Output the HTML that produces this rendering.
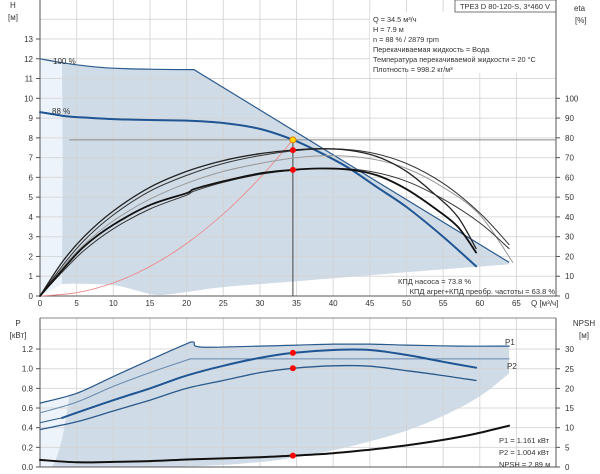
<!DOCTYPE html>
<html><head><meta charset="utf-8"><style>
html,body{margin:0;padding:0;background:#fff;}
svg{display:block;font-family:"Liberation Sans","Noto Sans CJK SC",sans-serif;}
</style></head><body>
<svg id="c" width="600" height="474" viewBox="0 0 600 474"></svg>
<script>
// ---- data ----
const qTicks=[0,5,10,15,20,25,30,35,40,45,50,55,60,65];
const hTicks=[0,1,2,3,4,5,6,7,8,9,10,11,12,13];
const etaTicks=[0,10,20,30,40,50,60,70,80,90,100];
const pTicks=[0,0.2,0.4,0.6,0.8,1.0,1.2];
const npshTicks=[0,5,10,15,20,25,30];
const h100a=[[0,12],[3,11.8],[6,11.65],[10,11.52],[15,11.47],[21,11.45]];
const h100b=[[21,11.45],[64,1.7]];
const h88=[[0,9.3],[3,9.12],[5,9.05],[10,8.95],[15,8.9],[20,8.87],[25,8.75],[30,8.45],[34.5,7.9],[38,7.3],[42,6.5],[46,5.5],[50,4.5],[55,3.0],[59.5,1.5]];
const shadeLower=[[64,1.6],[55,1.35],[45,1.05],[35,0.75],[25,0.45],[20,0.2],[16,0.05],[13,0.3],[10,0.55],[5,0.62],[3,0.6]];
const etaPump88=[[0,0],[3,17],[6,30],[10,43],[15,55],[20,63],[25,68.5],[30,72],[34.5,73.8],[38,74.5],[42,73.8],[46,70.5],[50,63],[54,51],[57,40],[59.5,24]];
const etaPump100=[[0,0],[3,15],[6,28],[10,41],[15,53],[20,61],[25,67],[30,71],[35,73.6],[40,74.4],[45,72.6],[50,67],[55,57],[60,42],[64,26]];
const etaTot88=[[0,0],[3,13],[6,25],[10,36],[15,46],[20,52],[21,54],[25,58],[30,62],[34.5,63.8],[38,64.5],[42,64],[46,61],[50,54],[54,44],[57,35],[59.5,22]];
const etaTot100=[[0,0],[3,12],[6,23],[10,34],[15,44],[20,51],[21,53],[25,57.5],[30,61.5],[35,63.8],[40,64.6],[45,63],[50,58],[55,49],[60,37],[64,24]];
const etaTot100b=[[0,0],[3,14],[6,26],[10,38],[15,49],[20,57],[25,63],[30,67],[35,70],[40,71],[45,69.5],[50,64.5],[55,55],[60,41],[64.5,17]];
const p1MaxA=[[0,0.65],[5,0.75],[10,0.92],[15,1.09],[20.5,1.27]];
const p1MaxB=[[20.5,1.27],[21,1.27],[22,1.22],[30,1.23],[35,1.24],[40,1.25],[45,1.25],[50,1.24],[57,1.23],[64,1.23]];
const p2MaxA=[[0,0.55],[5,0.66],[10,0.82],[15,0.96],[20.5,1.10]];
const p2MaxB=[[20.5,1.10],[64,1.10]];
const p1Op=[[3,0.50],[10,0.68],[15,0.80],[20,0.93],[25,1.03],[30,1.11],[34.5,1.161],[40,1.19],[45,1.19],[50,1.14],[55,1.07],[59.5,1.01]];
const p1OpThin=[[0,0.45],[3,0.50]];
const p2Op=[[0,0.38],[5,0.46],[10,0.57],[15,0.68],[20,0.80],[25,0.88],[30,0.96],[34.5,1.004],[40,1.03],[45,1.025],[50,0.98],[55,0.93],[59.5,0.88]];
const pShadeLower=[[64,0.95],[60,0.72],[55,0.52],[50,0.37],[45,0.26],[40,0.17],[35,0.1],[30,0.05],[22,0.01],[10,0],[6,0]];
const npsh=[[0,1.8],[5,1.2],[10,1.3],[15,1.5],[20,1.9],[25,2.2],[30,2.5],[34.5,2.89],[40,3.5],[45,4.4],[50,5.5],[55,6.9],[59.5,8.5],[64,10.5]];
const opQ=34.5, opH=7.9, opEtaPump=73.8, opEtaTot=63.8, opP1=1.161, opP2=1.004, opNpsh=2.89;

// ---- axes ----
const X=q=>40+q*7.33;
const YH=h=>296-h*19.77;
const YE=e=>296-e*1.977;
const YP=p=>467-p*98.3;
const YN=n=>467-n*3.93;
const S=document.getElementById('c');
const NS='http://www.w3.org/2000/svg';
function mk(t,a,name){const e=document.createElementNS(NS,t);for(const k in a)e.setAttribute(k,a[k]);


S.appendChild(e);return e;}
function txt(x,y,s,name,anchor,size){const e=mk('text',{x:x,y:y,'font-size':size||8,fill:'#333','text-anchor':anchor||'start'},name);e.textContent=s;return e;}
function pts2(pts,fx,fy){return pts.map(p=>[fx(p[0]),fy(p[1])]);}
// smooth catmull-rom path; cont=true omits leading M (uses L)
function smooth(pts,fx,fy,cont){const P=pts2(pts,fx,fy);let d=(cont?'L':'M')+P[0][0].toFixed(1)+','+P[0][1].toFixed(1);
for(let i=0;i<P.length-1;i++){const p0=P[i-1]||P[i],p1=P[i],p2=P[i+1],p3=P[i+2]||P[i+1];
const c1=[p1[0]+(p2[0]-p0[0])/6,p1[1]+(p2[1]-p0[1])/6],c2=[p2[0]-(p3[0]-p1[0])/6,p2[1]-(p3[1]-p1[1])/6];
d+=' C'+c1[0].toFixed(1)+','+c1[1].toFixed(1)+' '+c2[0].toFixed(1)+','+c2[1].toFixed(1)+' '+p2[0].toFixed(1)+','+p2[1].toFixed(1);}
return d;}
function line(pts,fx,fy,st,w,name){return mk('path',{d:smooth(pts,fx,fy),fill:'none',stroke:st,'stroke-width':w,'stroke-linejoin':'round','stroke-linecap':'round'},name);}

// ---- top chart ----
mk('path',{d:'M'+X(0)+','+YH(12)+' L'+X(4.3)+','+YH(11.72)+' L'+X(3)+','+YH(0.6)+' L'+X(0)+','+YH(0)+' Z',fill:'#edf3fa'},'top-light-region');
mk('path',{d:smooth(h100a.filter(p=>p[0]>=3),X,YH)+' L'+X(64)+','+YH(1.7)+' '+smooth(shadeLower,X,YH,true)+' L'+X(3.1)+','+YH(7)+' Z',fill:'#cfdbe7'},'top-operating-range');
for(const q of qTicks){if(q>0)mk('line',{x1:X(q),y1:0,x2:X(q),y2:296,stroke:'#d3d3d3','stroke-width':1,'stroke-opacity':0.85},'q-gridline');}
for(let h=1;h<=14;h++)mk('line',{x1:40,y1:YH(h),x2:556,y2:YH(h),stroke:'#d3d3d3','stroke-width':1,'stroke-opacity':0.85},'h-gridline');
mk('rect',{x:370,y:12,width:186,height:61,fill:'#fff'},'info-box');
mk('rect',{x:455,y:0,width:101,height:12,fill:'#fff',stroke:'#555','stroke-width':0.8},'title-box');
txt(505,9,'TPE3 D 80-120-S, 3*460 V','pump-title','middle',7.5);
const info=['Q = 34.5 м³/ч','H = 7.9 м','n = 88 % / 2879 rpm','Перекачиваемая жидкость = Вода','Температура перекачиваемой жидкости = 20 °C','Плотность = 998.2 кг/м³'];
info.forEach((s,i)=>txt(373,22+i*10,s,'info-line','start',7.3));
mk('line',{x1:40,y1:0,x2:40,y2:296,stroke:'#555'},'h-axis-line');
mk('line',{x1:556,y1:0,x2:556,y2:296,stroke:'#555'},'eta-axis-line');
mk('line',{x1:40,y1:296,x2:556,y2:296,stroke:'#555'},'q-axis-line');
hTicks.forEach(h=>{txt(33,YH(h)+3,String(h),'h-tick-label','end');mk('line',{x1:36,y1:YH(h),x2:40,y2:YH(h),stroke:'#555'},'h-tick');});
etaTicks.forEach(e=>{txt(565,YE(e)+3,String(e),'eta-tick-label','start');mk('line',{x1:556,y1:YE(e),x2:560,y2:YE(e),stroke:'#555'},'eta-tick');});
qTicks.forEach(q=>{txt(X(q),306,String(q),'q-tick-label','middle');});
txt(531,306,'Q [м³/ч]','q-axis-title','start');
txt(10,8,'H','h-axis-title','start');txt(8,20,'[м]','h-axis-unit','start');
txt(574,11,'eta','eta-axis-title','start');txt(575,23,'[%]','eta-axis-unit','start');
const sysQ=[0,5,10,15,20,25,30,34.5];
mk('path',{d:smooth(sysQ.map(q=>[q,opH*Math.pow(q/opQ,2)]),X,YH),fill:'none',stroke:'#f08080','stroke-width':0.8},'system-curve');
mk('line',{x1:X(4),y1:YH(opH),x2:556,y2:YH(opH),stroke:'#888','stroke-width':1},'duty-head-line');
mk('line',{x1:X(opQ),y1:YH(opH),x2:X(opQ),y2:296,stroke:'#444','stroke-width':1},'duty-flow-line');
mk('path',{d:smooth(h100a,X,YH)+' L'+X(h100b[1][0])+','+YH(h100b[1][1]),fill:'none',stroke:'#2a5a8c','stroke-width':1.2},'curve-100pct');
line(h88,X,YH,'#1f5592',2,'curve-88pct');
line(etaTot100b,X,YE,'#999',1,'eta-curve-100-pump');
line(etaPump100,X,YE,'#333',1,'eta-curve-100-total');
line(etaTot100,X,YE,'#333',1,'eta-curve-100-b');
line(etaPump88,X,YE,'#222',1.3,'eta-pump-88');
line(etaTot88,X,YE,'#111',1.8,'eta-total-88');
txt(53,64,'100 %','label-100pct','start');
txt(52,114,'88 %','label-88pct','start');
mk('circle',{cx:X(opQ),cy:YE(opEtaPump),r:3,fill:'#f00'},'eta-pump-point');
mk('circle',{cx:X(opQ),cy:YE(opEtaTot),r:3,fill:'#f00'},'eta-total-point');
mk('circle',{cx:X(opQ),cy:YH(opH),r:3,fill:'#ffd700',stroke:'#e08000','stroke-width':1},'duty-point');
txt(398,284,'КПД насоса = 73.8 %','pump-eff-label','start',7.5);
txt(555,294,'КПД агрег+КПД преобр. частоты = 63.8 %','total-eff-label','end',7.5);

// ---- bottom chart ----
mk('path',{d:'M'+X(0)+','+YP(0.65)+' L'+X(4)+','+YP(0.73)+' Q'+X(3)+','+YP(0.15)+' '+X(1.6)+','+YP(0)+' L'+X(0)+','+YP(0)+' Z',fill:'#edf3fa'},'bottom-light-strip');
mk('path',{d:'M'+X(4)+','+YP(0.73)+' '+smooth(p1MaxA.filter(p=>p[0]>=5),X,YP,true)+' '+smooth(p1MaxB,X,YP,true)+' '+smooth(pShadeLower,X,YP,true)+' L'+X(1.6)+','+YP(0)+' Q'+X(3)+','+YP(0.15)+' '+X(4)+','+YP(0.73)+' Z',fill:'#cfdbe7'},'bottom-operating-range');
for(const q of qTicks){if(q>0)mk('line',{x1:X(q),y1:318,x2:X(q),y2:467,stroke:'#d3d3d3','stroke-opacity':0.85},'q-gridline-bottom');}
for(let i=1;i<=7;i++)mk('line',{x1:40,y1:YP(i*0.2),x2:556,y2:YP(i*0.2),stroke:'#d3d3d3','stroke-opacity':0.85},'p-gridline');
mk('line',{x1:40,y1:318,x2:556,y2:318,stroke:'#888'},'bottom-top-border');
mk('line',{x1:40,y1:318,x2:40,y2:467,stroke:'#555'},'p-axis-line');
mk('line',{x1:556,y1:318,x2:556,y2:467,stroke:'#555'},'npsh-axis-line');
mk('line',{x1:40,y1:467,x2:556,y2:467,stroke:'#555'},'q-axis-line-bottom');
pTicks.forEach(p=>{txt(33,YP(p)+3,p.toFixed(1),'p-tick-label','end');mk('line',{x1:36,y1:YP(p),x2:40,y2:YP(p),stroke:'#555'},'p-tick');});
npshTicks.forEach(n=>{txt(565,YN(n)+3,String(n),'npsh-tick-label','start');mk('line',{x1:556,y1:YN(n),x2:560,y2:YN(n),stroke:'#555'},'npsh-tick');});
txt(18,326,'P','p-axis-title','middle');txt(18,338,'[кВт]','p-axis-unit','middle');
txt(584,326,'NPSH','npsh-axis-title','middle');txt(584,338,'[м]','npsh-axis-unit','middle');
line(p1MaxA,X,YP,'#2a5a8c',1.2,'p1-max-curve-a');
line(p1MaxB,X,YP,'#2a5a8c',1.2,'p1-max-curve-b');
line(p2MaxA,X,YP,'#6a8aae',1,'p2-max-curve-a');
line(p2MaxB,X,YP,'#6a8aae',1,'p2-max-curve-b');
line(p1OpThin,X,YP,'#2a5a8c',1,'p1-start');
line(p1Op,X,YP,'#1f5592',2,'p1-curve');
line(p2Op,X,YP,'#2a5a8c',1.3,'p2-curve');
line(npsh,X,YN,'#111',2,'npsh-curve');
txt(505,345,'P1','p1-label','start');txt(507,369,'P2','p2-label','start');
mk('circle',{cx:X(opQ),cy:YP(opP1),r:3,fill:'#f00'},'p1-point');
mk('circle',{cx:X(opQ),cy:YP(opP2),r:3,fill:'#f00'},'p2-point');
mk('circle',{cx:X(opQ),cy:YN(opNpsh),r:3,fill:'#f00'},'npsh-point');
txt(499,443,'P1 = 1.161 кВт','p1-value','start',7.5);
txt(499,455,'P2 = 1.004 кВт','p2-value','start',7.5);
txt(499,467,'NPSH = 2.89 м','npsh-value','start',7.5);
</script>
</body></html>
